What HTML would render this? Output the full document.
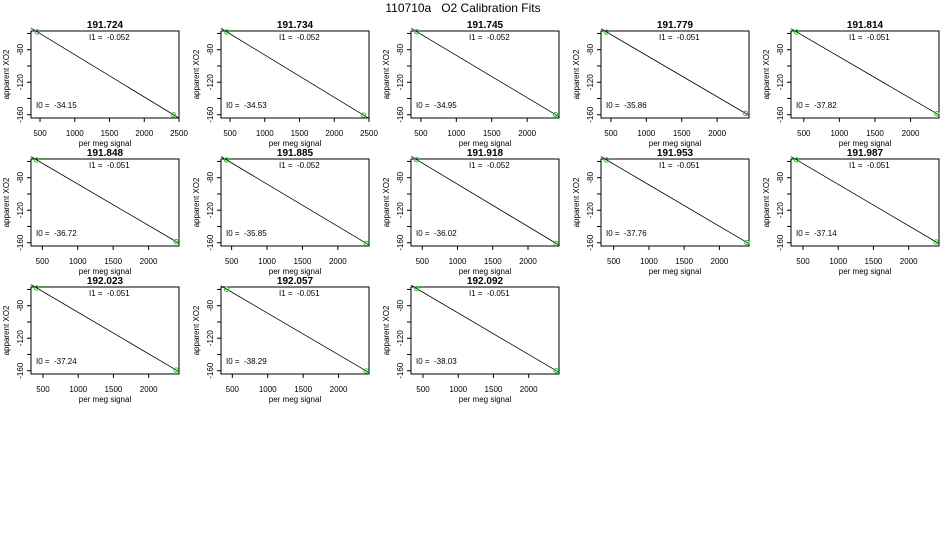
<!DOCTYPE html>
<html><head><meta charset="utf-8"><style>
body{margin:0;background:#fff;}
svg{display:block;font-family:"Liberation Sans",sans-serif;}
text{white-space:pre;}
</style></head><body>
<svg id="chart" width="950" height="550" viewBox="0 0 950 550">
<text x="463" y="12" font-size="12" text-anchor="middle" xml:space="preserve">110710a   O2 Calibration Fits</text>
</svg>
<script>
const titles=["191.724","191.734","191.745","191.779","191.814","191.848","191.885","191.918","191.953","191.987","192.023","192.057","192.092"];
const slopes=["-0.052","-0.052","-0.052","-0.051","-0.051","-0.051","-0.052","-0.052","-0.051","-0.051","-0.051","-0.051","-0.051"];
const intercepts=[-34.15,-34.53,-34.95,-35.86,-37.82,-36.72,-35.85,-36.02,-37.76,-37.14,-37.24,-38.29,-38.03];
const xLow=[460,455,440,440,400,420,430,420,400,410,410,420,410];
const xHigh=[2420,2420,2400,2400,2370,2390,2400,2400,2390,2390,2390,2390,2390];
const xMins=[370,370,360,360,320,340,350,340,320,330,330,340,330];
const xMaxs=[2500,2500,2450,2450,2400,2430,2440,2440,2420,2430,2430,2430,2430];
const xTicks=[500,1000,1500,2000,2500];
const yTicks=[-60,-80,-100,-120,-140,-160];
const yLabels=[-80,-120,-160];
const yMin=-164,yMax=-57;
const NS="http://www.w3.org/2000/svg";
const svg=document.getElementById('chart');
function mk(tag,attrs,parent){const e=document.createElementNS(NS,tag);for(const k in attrs)e.setAttribute(k,attrs[k]);(parent||svg).appendChild(e);return e;}
titles.forEach((t,i)=>{
  const ox=(i%5)*190, oy=Math.floor(i/5)*128;
  const L=ox+31,R=ox+179,T=oy+31,B=oy+118;
  const xs=v=>L+(v-xMins[i])/(xMaxs[i]-xMins[i])*(R-L);
  const ys=v=>T+(yMax-v)/(yMax-yMin)*(B-T);
  const g=mk('g',{});
  
  
  const tt=mk('text',{x:(L+R)/2,y:oy+28,'font-size':10,'font-weight':'bold','text-anchor':'middle'},g);tt.textContent=t;
  
  const box=mk('rect',{x:L,y:T,width:R-L,height:B-T,fill:'none',stroke:'#000','stroke-width':1},g);
  
  xTicks.forEach(v=>{if(v<xMins[i]||v>xMaxs[i])return;const x=xs(v);
    mk('line',{x1:x,x2:x,y1:B,y2:B+4,stroke:'#000'},g);
    const lt=mk('text',{x:x,y:B+18,'font-size':8,'text-anchor':'middle'},g);lt.textContent=v;
    });
  yTicks.forEach(v=>{const y=ys(v);mk('line',{x1:L-4,x2:L,y1:y,y2:y,stroke:'#000'},g);
    if(yLabels.includes(v)){const lt=mk('text',{x:0,y:0,'font-size':8,'text-anchor':'middle',transform:`translate(${L-8},${y}) rotate(-90)`},g);lt.textContent=v;
    }});
  const xt=mk('text',{x:(L+R)/2,y:oy+146,'font-size':8,'text-anchor':'middle'},g);xt.textContent='per meg signal';
  
  const yt=mk('text',{x:0,y:0,'font-size':8,'text-anchor':'middle',transform:`translate(${ox+9},${(T+B)/2}) rotate(-90)`},g);yt.textContent='apparent XO2';
  
  const s=parseFloat(slopes[i]);
  const yA=intercepts[i]+s*xMins[i], yB=intercepts[i]+s*xMaxs[i];
  const ln=mk('line',{x1:L,y1:ys(yA),x2:R,y2:ys(yB),stroke:'#000','stroke-width':0.8},g);
  
  [xLow[i],xHigh[i]].forEach(xv=>{const yv=intercepts[i]+s*xv;
    const c=mk('circle',{cx:xs(xv),cy:ys(yv),r:2.2,fill:'none',stroke:'#2c2','stroke-width':1},g);
    });
  const t1=mk('text',{x:ox+89,y:oy+40,'font-size':8,'xml:space':'preserve'},g);t1.textContent='I1 =  '+slopes[i];
  
  const t0=mk('text',{x:ox+36,y:oy+108,'font-size':8},g);t0.textContent='I0 =  '+intercepts[i].toFixed(2);
  
});
</script>
</body></html>
